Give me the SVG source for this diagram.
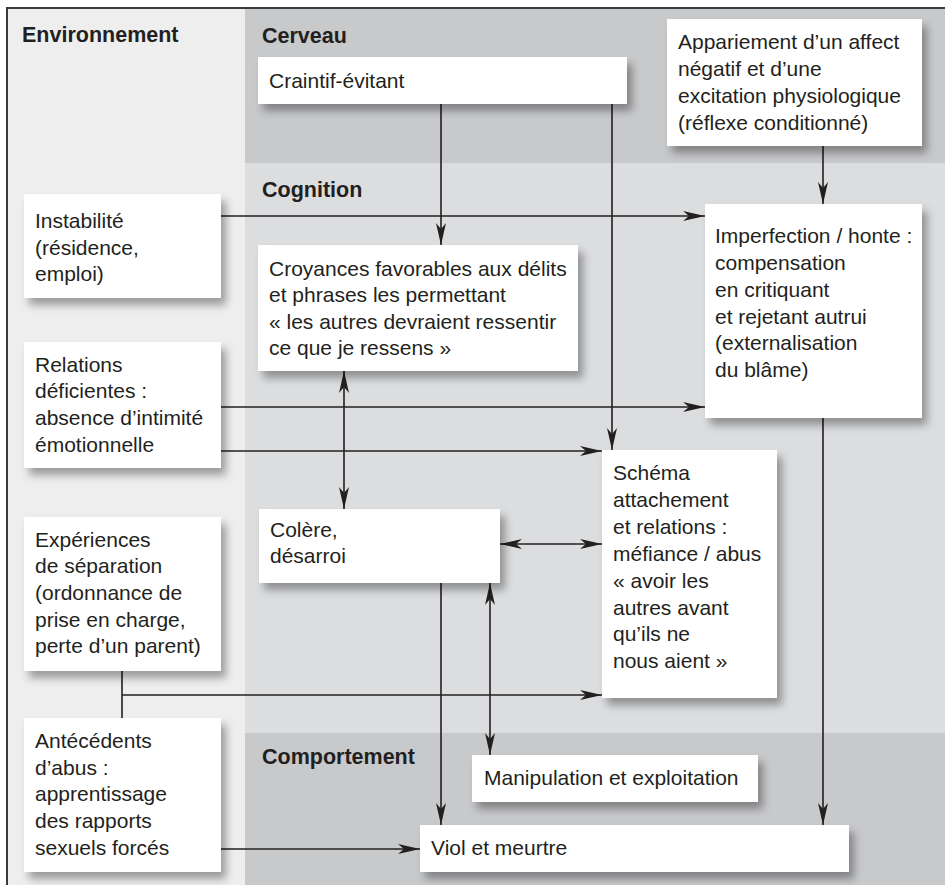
<svg xmlns="http://www.w3.org/2000/svg" width="945" height="885" viewBox="0 0 945 885">
<style>
  text { font-family: "Liberation Sans", Arial, Helvetica, sans-serif; fill: #231f20; }
  .hdr { font-size: 21.5px; font-weight: bold; }
  .t { font-size: 21px; }
  .box { fill: #ffffff; filter: url(#shadow); }
  .con { fill: none; stroke: #231f20; stroke-width: 1.6; }
  .arr { marker-end: url(#ah); }
  .dbl { marker-start: url(#ah); marker-end: url(#ah); }
</style>
<defs>
  <filter id="shadow" x="-20%" y="-20%" width="150%" height="160%">
    <feDropShadow dx="5" dy="7" stdDeviation="4" flood-color="#000000" flood-opacity="0.35"/>
  </filter>
  <marker id="ah" markerUnits="userSpaceOnUse" markerWidth="22" markerHeight="10" refX="22" refY="5" orient="auto-start-reverse" viewBox="0 0 22 10">
    <path d="M0,0 L22,5 L0,10 L6,5 Z" fill="#231f20"/>
  </marker>
</defs>

<g id="background">
  <rect x="0" y="0" width="945" height="885" fill="#ffffff"/>
  <rect x="8" y="9" width="237" height="876" fill="#eeeeef"/>
  <rect x="245" y="9" width="700" height="154" fill="#c8c9cb"/>
  <rect x="245" y="163" width="700" height="570" fill="#dcdddf"/>
  <rect x="245" y="733" width="700" height="152" fill="#c8c9cb"/>
  <path d="M7,885 V8 H945" fill="none" stroke="#3a3a3a" stroke-width="2"/>
</g>

<g id="headers">
  <text class="hdr" x="22" y="42">Environnement</text>
  <text class="hdr" x="262" y="43">Cerveau</text>
  <text class="hdr" x="262" y="197">Cognition</text>
  <text class="hdr" x="262" y="764">Comportement</text>
</g>

<g id="connectors">
  <path class="con arr" d="M441,104 V245"/>
  <path class="con arr" d="M612,104 V450"/>
  <path class="con arr" d="M823,146 V204"/>
  <path class="con arr" d="M221,216 H705"/>
  <path class="con arr" d="M221,407 H705"/>
  <path class="con arr" d="M221,451 H602"/>
  <path class="con dbl" d="M344,371 V509"/>
  <path class="con dbl" d="M500,544 H602"/>
  <path class="con arr" d="M441,583 V825"/>
  <path class="con dbl" d="M490,583 V755"/>
  <path class="con" d="M122,671 V718"/>
  <path class="con arr" d="M122,695 H602"/>
  <path class="con arr" d="M221,849 H420"/>
  <path class="con arr" d="M823,418 V825"/>
</g>

<g id="craintif">
  <rect class="box" x="258" y="57" width="369" height="47"/>
  <text class="t" x="269" y="88">Craintif-évitant</text>
</g>

<g id="appariement">
  <rect class="box" x="667" y="19" width="255" height="127"/>
  <text class="t" x="678" y="49">Appariement d’un affect</text>
  <text class="t" x="678" y="76">négatif et d’une</text>
  <text class="t" x="678" y="103">excitation physiologique</text>
  <text class="t" x="678" y="130">(réflexe conditionné)</text>
</g>

<g id="instabilite">
  <rect class="box" x="24" y="194" width="197" height="104"/>
  <text class="t" x="35" y="228">Instabilité</text>
  <text class="t" x="35" y="255">(résidence,</text>
  <text class="t" x="35" y="281">emploi)</text>
</g>

<g id="croyances">
  <rect class="box" x="258" y="245" width="320" height="126"/>
  <text class="t" x="269" y="276">Croyances favorables aux délits</text>
  <text class="t" x="269" y="302">et phrases les permettant</text>
  <text class="t" x="269" y="329">« les autres devraient ressentir</text>
  <text class="t" x="269" y="355">ce que je ressens »</text>
</g>

<g id="imperfection">
  <rect class="box" x="705" y="204" width="217" height="214"/>
  <text class="t" x="715" y="243">Imperfection / honte :</text>
  <text class="t" x="715" y="270">compensation</text>
  <text class="t" x="715" y="297">en critiquant</text>
  <text class="t" x="715" y="324">et rejetant autrui</text>
  <text class="t" x="715" y="350">(externalisation</text>
  <text class="t" x="715" y="377">du blâme)</text>
</g>

<g id="relations">
  <rect class="box" x="24" y="342" width="197" height="126"/>
  <text class="t" x="35" y="372">Relations</text>
  <text class="t" x="35" y="398">déficientes :</text>
  <text class="t" x="35" y="425">absence d’intimité</text>
  <text class="t" x="35" y="452">émotionnelle</text>
</g>

<g id="schema">
  <rect class="box" x="602" y="450" width="175" height="248"/>
  <text class="t" x="613" y="480">Schéma</text>
  <text class="t" x="613" y="507">attachement</text>
  <text class="t" x="613" y="534">et relations :</text>
  <text class="t" x="613" y="561">méfiance / abus</text>
  <text class="t" x="613" y="588">« avoir les</text>
  <text class="t" x="613" y="615">autres avant</text>
  <text class="t" x="613" y="641">qu’ils ne</text>
  <text class="t" x="613" y="668">nous aient »</text>
</g>

<g id="colere">
  <rect class="box" x="259" y="509" width="241" height="74"/>
  <text class="t" x="270" y="537">Colère,</text>
  <text class="t" x="270" y="563">désarroi</text>
</g>

<g id="experiences">
  <rect class="box" x="24" y="517" width="197" height="154"/>
  <text class="t" x="35" y="547">Expériences</text>
  <text class="t" x="35" y="573">de séparation</text>
  <text class="t" x="35" y="600">(ordonnance de</text>
  <text class="t" x="35" y="627">prise en charge,</text>
  <text class="t" x="35" y="653">perte d’un parent)</text>
</g>

<g id="antecedents">
  <rect class="box" x="24" y="718" width="197" height="154"/>
  <text class="t" x="35" y="748">Antécédents</text>
  <text class="t" x="35" y="775">d’abus :</text>
  <text class="t" x="35" y="801">apprentissage</text>
  <text class="t" x="35" y="828">des rapports</text>
  <text class="t" x="35" y="855">sexuels forcés</text>
</g>

<g id="manipulation">
  <rect class="box" x="472" y="755" width="286" height="47"/>
  <text class="t" x="484" y="785">Manipulation et exploitation</text>
</g>

<g id="viol">
  <rect class="box" x="420" y="825" width="429" height="47"/>
  <text class="t" x="431" y="855">Viol et meurtre</text>
</g>
</svg>
